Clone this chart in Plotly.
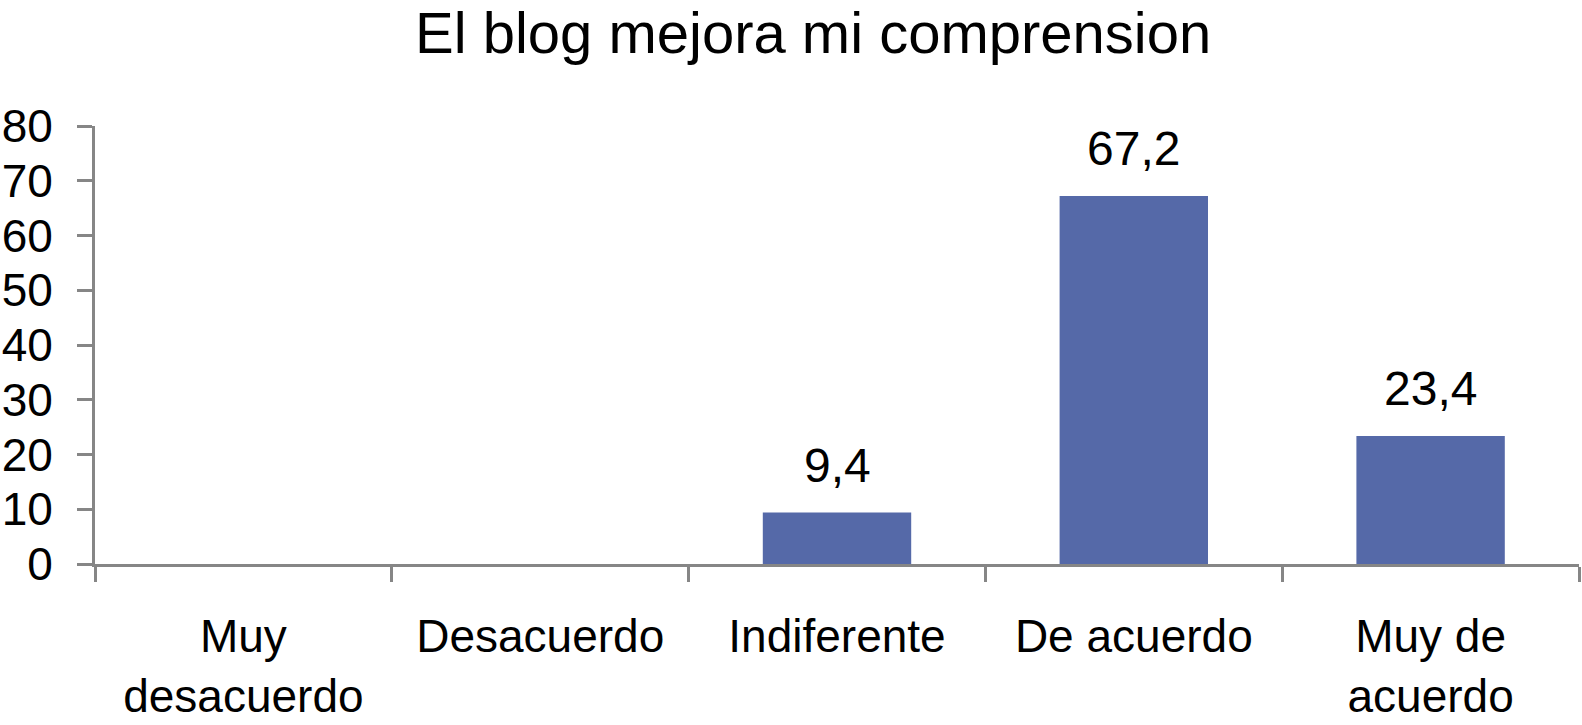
import plotly.graph_objects as go


# ==========================================================
# Data
# ==========================================================

CATEGORIES = [
    "Muy<br>desacuerdo",
    "Desacuerdo",
    "Indiferente",
    "De acuerdo",
    "Muy de<br>acuerdo",
]

PERCENT = [0, 0, 9.4, 67.2, 23.4]

Y_TICKS = [0, 10, 20, 30, 40, 50, 60, 70, 80]

TITLE = "El blog mejora mi comprension"


# ==========================================================
# Theme
# ==========================================================

BAR_COLOR = "#5569A8"
AXIS_COLOR = "#868686"
FONT = "Liberation Sans, Arial, sans-serif"


fig = go.Figure(
    go.Bar(
        x=CATEGORIES,
        y=PERCENT,
        marker=dict(color=BAR_COLOR, line=dict(width=0)),
        hoverinfo="skip",
    )
)

# data labels above the bars (empty categories get none)
for cat, val in zip(CATEGORIES, PERCENT):
    if val == 0:
        continue
    fig.add_annotation(
        x=cat,
        y=val,
        text=f"{val:.1f}".replace(".", ","),
        showarrow=False,
        yanchor="bottom",
        yshift=19,
        font=dict(size=48, color="black", family=FONT),
    )

fig.update_layout(
    width=1582,
    height=725,
    paper_bgcolor="white",
    plot_bgcolor="white",
    font=dict(family=FONT, color="black"),
    title=dict(
        text=TITLE,
        x=0.514,
        xanchor="center",
        y=1 - 33 / 725,
        yanchor="middle",
        font=dict(size=58, color="black", family=FONT),
    ),
    bargap=0.5,
    showlegend=False,
    margin=dict(l=95, r=3, t=126, b=161),
)

fig.update_xaxes(
    automargin=False,
    tickson="boundaries",
    ticks="outside",
    ticklen=15,
    tickwidth=3,
    tickcolor=AXIS_COLOR,
    showline=True,
    linewidth=3,
    linecolor=AXIS_COLOR,
    showgrid=False,
    tickfont=dict(size=46, color="black"),
    ticklabelstandoff=30,
)

fig.update_yaxes(
    automargin=False,
    range=[0, 80],
    tickvals=Y_TICKS,
    ticks="outside",
    ticklen=15,
    tickwidth=3,
    tickcolor=AXIS_COLOR,
    showline=True,
    linewidth=3,
    linecolor=AXIS_COLOR,
    showgrid=False,
    zeroline=False,
    tickfont=dict(size=46, color="black"),
    ticklabelstandoff=15,
)

# drop the default page margin so the figure sits at the window's corner
fig.write_html(
    "out.html",
    config={"displayModeBar": False},
    post_script="document.body.style.margin = '0';",
)
